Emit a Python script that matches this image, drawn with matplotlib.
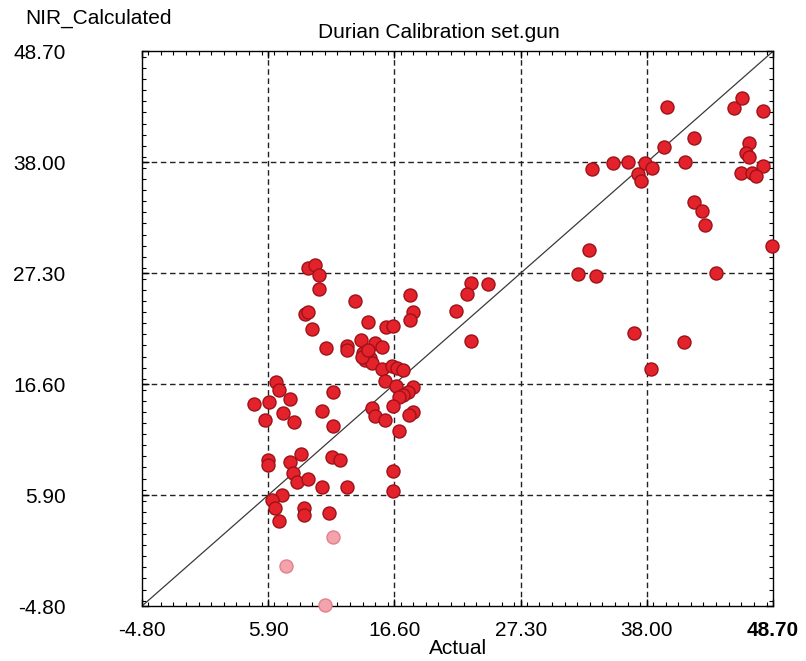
import numpy as np
import matplotlib
matplotlib.use("Agg")
import matplotlib.pyplot as plt
from matplotlib.ticker import MultipleLocator

plt.rcParams['font.family'] = ['Liberation Sans', 'DejaVu Sans']

# calibration samples: actual vs NIR calculated
actual = [33.34, 35.17, 36.40, 37.86, 38.43, 37.24, 37.52, 39.42, 39.70, 41.20,
          42.04, 45.35, 46.03, 47.81, 46.66, 46.43, 46.62, 47.85, 46.01, 46.91,
          47.28, 42.04, 42.67, 42.95, 48.65, 33.09, 32.15, 33.65, 43.86, 36.90,
          41.15, 38.37,
          23.08, 24.57, 22.79, 17.93, 21.83, 18.21, 17.93, 23.08,
          13.22, 14.39, 15.90, 16.46, 12.56, 12.56, 13.78, 14.96, 15.53, 13.97,
          14.54, 14.11, 14.68, 13.83, 14.37, 15.53, 16.38, 16.83, 17.36, 15.81,
          16.74, 18.21, 17.79, 17.36, 17.02, 16.46, 14.68, 14.96, 15.81, 18.16,
          17.87, 17.00, 16.45, 16.45,
          9.31, 9.87, 10.24, 10.21, 9.03, 9.31, 9.58, 10.81,
          6.52, 6.85, 4.72, 5.97, 7.75, 11.37, 5.63, 7.13, 8.07, 10.44, 11.37,
          5.89, 5.89, 7.73, 8.66, 11.29, 11.97, 8.01, 8.32, 9.25, 10.44, 12.56,
          7.10, 6.20, 6.48, 8.94, 8.94, 11.04, 6.82]
calculated = [37.35, 37.93, 38.00, 37.96, 37.48, 36.84, 36.22, 39.47, 43.36, 38.05,
              40.31, 43.20, 44.23, 42.94, 39.89, 38.86, 38.54, 37.64, 36.99, 36.94,
              36.70, 34.14, 33.30, 31.95, 29.95, 29.54, 27.25, 27.03, 27.29, 21.54,
              20.70, 18.03,
              26.39, 26.23, 25.27, 25.15, 23.66, 23.56, 22.76, 20.76,
              24.62, 22.58, 22.14, 22.18, 20.24, 19.92, 20.86, 20.54, 20.21, 19.58,
              19.10, 18.93, 18.61, 19.25, 19.90, 18.02, 18.35, 18.13, 17.92, 16.91,
              16.42, 16.30, 15.87, 15.56, 15.33, 14.50, 14.27, 13.53, 13.15, 13.95,
              13.63, 12.11, 8.26, 6.32,
              27.76, 28.09, 27.10, 25.75, 23.39, 23.53, 21.92, 20.06,
              16.78, 16.04, 14.72, 14.88, 15.14, 15.87, 13.15, 13.79, 12.90, 14.01, 12.60,
              9.29, 8.81, 9.12, 9.87, 9.55, 9.29, 7.99, 7.20, 7.43, 6.71, 6.71,
              5.94, 5.43, 4.63, 4.66, 3.94, 4.18, 3.43]

# faint samples (under the watermark)
actual_faint = [11.37, 7.41, 10.72]
calculated_faint = [1.89, -0.93, -4.69]

ticks = [-4.80, 5.90, 16.60, 27.30, 38.00, 48.70]
tick_labels = ["-4.80", "5.90", "16.60", "27.30", "38.00", "48.70"]

fig = plt.figure(figsize=(8.06, 6.61), dpi=100)
ax = fig.add_axes([0.1762, 0.0832, 0.7829, 0.8392])

lo, hi = ticks[0], ticks[-1]
ax.set_xlim(lo, hi)
ax.set_ylim(lo, hi)

# grid on inner major ticks
for t in ticks[1:-1]:
    ax.axvline(t, color='#222222', lw=1.0, linestyle=(0, (4.0, 2.6)), zorder=1)
    ax.axhline(t, color='#222222', lw=1.0, linestyle=(0, (4.0, 2.6)), zorder=1)

ax.plot([lo, hi], [lo, hi], color='#3a3a3a', lw=0.9, zorder=2)

ax.scatter(actual, calculated, s=88, color='#e3222b', edgecolors='#9e1218',
           linewidths=1.0, zorder=3, clip_on=False)
ax.scatter(actual_faint, calculated_faint, s=88, color='#f2a3ab', edgecolors='#e57f8a',
           linewidths=1.0, zorder=3, clip_on=False)

ax.set_xticks(ticks)
ax.set_xticklabels(tick_labels)
ax.set_yticks(ticks)
ax.set_yticklabels(tick_labels)
ax.xaxis.set_minor_locator(MultipleLocator(1.07))
ax.yaxis.set_minor_locator(MultipleLocator(1.07))
ax.tick_params(which='both', direction='in', top=True, right=True, color='black')
ax.tick_params(which='major', length=5, width=1.0)
ax.tick_params(which='minor', length=3, width=0.8)
ax.tick_params(axis='x', labelsize=15, pad=11)
ax.tick_params(axis='y', labelsize=15, pad=55)
ax.get_xticklabels()[-1].set_fontweight('bold')

for sp in ax.spines.values():
    sp.set_linewidth(1.0)
    sp.set_color('black')

ax.set_xlabel("Actual", fontsize=15, labelpad=-1)
fig.text(439 / 806, 1 - 33 / 661, "Durian Calibration set.gun", fontsize=15,
         ha='center', va='center')
fig.text(25 / 806, 1 - 18 / 661, "NIR_Calculated", fontsize=15,
         ha='left', va='center')

fig.savefig("out.png", dpi=100)
